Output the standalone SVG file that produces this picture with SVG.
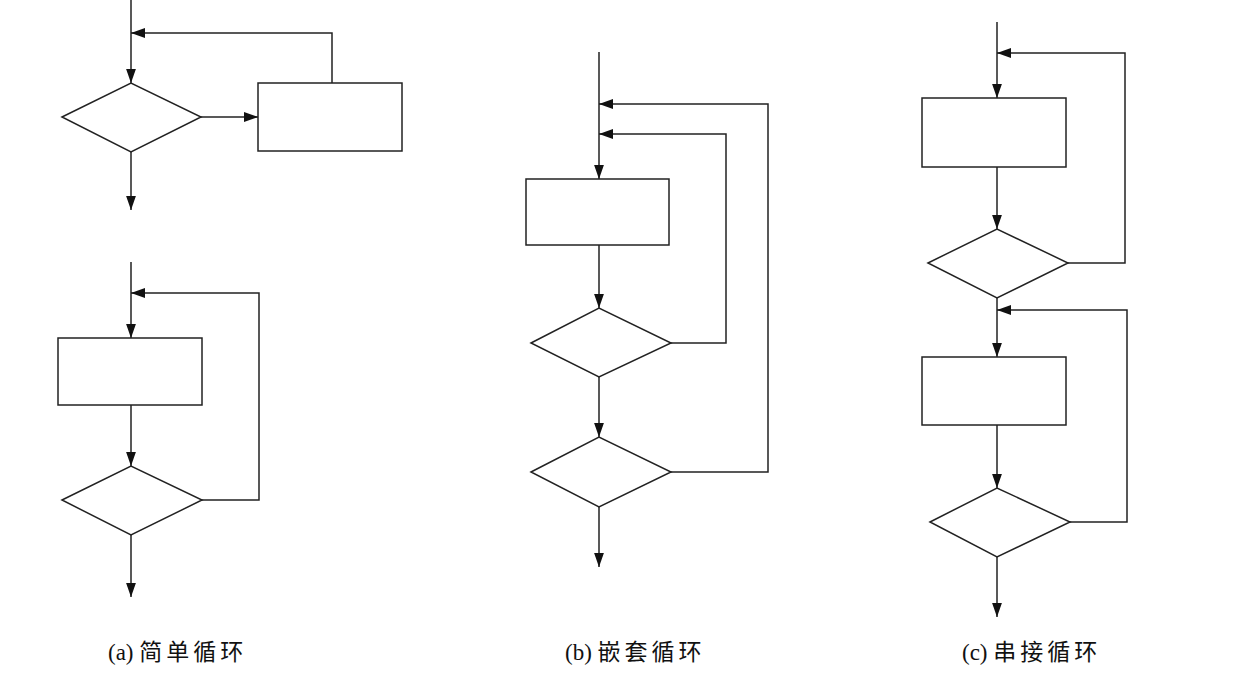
<svg xmlns="http://www.w3.org/2000/svg" width="1233" height="675" viewBox="0 0 1233 675">
<style>
.s{fill:none;stroke:#222;stroke-width:1.5}
.n{fill:#fff;stroke:#222;stroke-width:1.5}
.t{font-family:"Liberation Serif","Noto Sans CJK SC",serif;font-size:23px;fill:#111}
.c{letter-spacing:4px}
</style>
<defs><marker id="a" viewBox="0 0 10 10" refX="10" refY="5" markerWidth="14" markerHeight="14" markerUnits="userSpaceOnUse" orient="auto"><path d="M0,1.5L10,5L0,8.5z" fill="#111"/></marker></defs>
<rect width="1233" height="675" fill="#fff"/>
<g id="connectors" class="s" marker-end="url(#a)">
<path d="M131,0V83"/><path d="M201,117H258"/><path d="M332,83V33H131"/><path d="M131,152V210"/>
<path d="M131,262V338"/><path d="M131,405V466"/><path d="M131,535V597"/><path d="M202,500H259V293H131"/>
<path d="M599,52V179"/><path d="M599,245V308"/><path d="M599,377V437"/><path d="M599,507V567"/>
<path d="M671,343H726V134H599"/><path d="M671,472H768V104H599"/>
<path d="M997,22V98"/><path d="M997,167V229"/><path d="M1068,263H1125V53H997"/><path d="M997,298V357"/>
<path d="M997,425V488"/><path d="M1070,522H1127V310H997"/><path d="M997,557V617"/>
</g>
<g id="a1"><path class="n" d="M62,117L131,83L201,117L131,152z"/></g>
<g id="a2"><rect class="n" x="258" y="83" width="144" height="68"/></g>
<g id="a3"><rect class="n" x="58" y="338" width="144" height="67"/></g>
<g id="a4"><path class="n" d="M62,500L131,466L202,500L131,535z"/></g>
<g id="b1"><rect class="n" x="526" y="179" width="143" height="66"/></g>
<g id="b2"><path class="n" d="M531,343L599,308L671,343L599,377z"/></g>
<g id="b3"><path class="n" d="M531,472L599,437L671,472L599,507z"/></g>
<g id="c1"><rect class="n" x="922" y="98" width="144" height="69"/></g>
<g id="c2"><path class="n" d="M928,263L997,229L1068,263L997,298z"/></g>
<g id="c3"><rect class="n" x="922" y="357" width="144" height="68"/></g>
<g id="c4"><path class="n" d="M930,522L997,488L1070,522L997,557z"/></g>
<g id="labels">
<text class="t" x="108" y="660">(a) <tspan class="c">简单循环</tspan></text>
<text class="t" x="565" y="660">(b) <tspan class="c">嵌套循环</tspan></text>
<text class="t" x="962" y="660">(c) <tspan class="c">串接循环</tspan></text>
</g>
</svg>
